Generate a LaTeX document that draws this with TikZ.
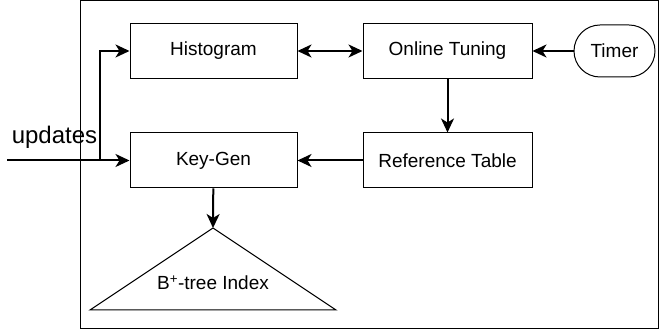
\documentclass[tikz,border=0pt]{standalone}
\usepackage{fontspec}
\setmainfont{Liberation Sans}
\usetikzlibrary{arrows.meta}

\begin{document}
\begin{tikzpicture}[x=1pt, y=1pt, >={Stealth[length=14pt, width=13pt, inset=4pt]},
	every block/.style={draw, line width=1pt, minimum height=55pt, font=\fontsize{19}{22}\selectfont},
	block left/.style={minimum width=167pt},
	block right/.style={minimum width=169pt},
	flow/.style={line width=2pt}]
	\useasboundingbox (0,0) rectangle (659,331);
	\draw [line width=1pt] (80,2) rectangle (658,330);

	\foreach \m/\l [count=\y] in {hist/Histogram, keygen/Key-Gen}
	\node [every block/.try, block left] (\m) at (213.5,389.5-\y*109.5) {\l};

	\foreach \m/\l [count=\y] in {tuning/Online Tuning, reftable/Reference Table}
	\node [every block/.try, block right] (\m) at (447.5,389.5-\y*109.5) {\l};

	\node [draw, line width=1pt, rounded corners=26pt, minimum width=81pt, minimum height=52pt,
		font=\fontsize{19}{22}\selectfont] (timer) at (614.5,280) {Timer};

	% index triangle
	\coordinate (apex) at (213,103);
	\coordinate (base-l) at (90,21);
	\coordinate (base-r) at (336,21);
	\draw [line width=1pt] (apex) -- (base-l) -- (base-r) -- cycle;
	\node [font=\fontsize{19}{22}\selectfont] (tree) at (213,48) {B\textsuperscript{+}-tree Index};

	% incoming updates
	\coordinate (in) at (7,170.5);
	\coordinate (split) at (100,170.5);
	\node [font=\fontsize{24}{28}\selectfont] (upd) at (54.5,194) {updates};
	\draw [flow] (in) -- (split);
	\draw [flow, ->] (split) -- (keygen);
	\draw [flow, ->] (split) |- (hist);

	\draw [flow, <->] (hist) -- (tuning);
	\draw [flow, ->] (timer) -- (tuning);
	\draw [flow, ->] (tuning) -- (reftable);
	\draw [flow, ->] (reftable) -- (keygen);
	\draw [flow, ->] (keygen) -- (apex);
\end{tikzpicture}
\end{document}
